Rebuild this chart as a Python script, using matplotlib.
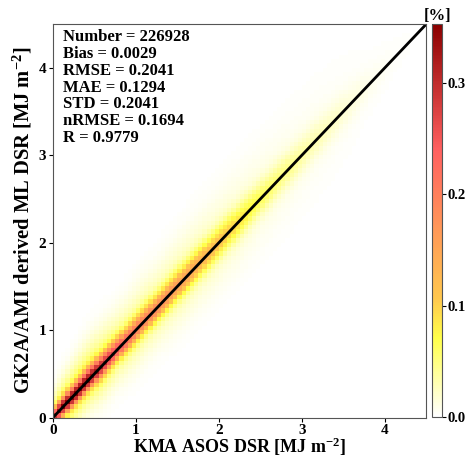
import numpy as np
import matplotlib
matplotlib.use("Agg")
import matplotlib.pyplot as plt
from matplotlib.colors import LinearSegmentedColormap

plt.rcParams['font.family'] = ['Liberation Serif', 'DejaVu Serif']
plt.rcParams['font.weight'] = 'bold'
plt.rcParams['mathtext.fontset'] = 'custom'
plt.rcParams['mathtext.rm'] = 'Liberation Serif:bold'
plt.rcParams['mathtext.bf'] = 'Liberation Serif:bold'
plt.rcParams['mathtext.it'] = 'Liberation Serif:bold:italic'
plt.rcParams['mathtext.default'] = 'bf'

# ---- data ----
stats_lines = ["Number = 226928", "Bias = 0.0029", "RMSE = 0.2041", "MAE = 0.1294",
               "STD = 0.2041", "nRMSE = 0.1694", "R = 0.9779"]
bin_width = 0.05
axis_max = 4.5
# density [%] along the 1:1 diagonal
diag_x = [0.0, 0.1, 0.25, 0.4, 0.6, 0.8, 1.0, 1.25, 1.5, 2.0, 2.5, 3.0, 3.5, 3.8, 4.1, 4.5]
diag_peak = [0.28, 0.35, 0.36, 0.35, 0.31, 0.25, 0.21, 0.19, 0.165, 0.115, 0.065, 0.036, 0.018, 0.008, 0.003, 0.0]
# core spread (MJ m-2) of the cloud above / below the diagonal
spread_above = [0.06, 0.07, 0.08, 0.09, 0.09, 0.09, 0.10, 0.10, 0.11, 0.12, 0.13, 0.14, 0.15, 0.15, 0.15, 0.15]
spread_below = [0.05, 0.06, 0.07, 0.07, 0.08, 0.08, 0.09, 0.09, 0.10, 0.11, 0.12, 0.13, 0.14, 0.14, 0.14, 0.14]
halo_fraction = 0.22
halo_scale = 3.0
cbar_ticks = [0.0, 0.1, 0.2, 0.3]
cbar_max = 0.353
axis_ticks = [0, 1, 2, 3, 4]

# ---- build grid ----
edges = np.arange(0, axis_max + bin_width / 2, bin_width)
centers = (edges[:-1] + edges[1:]) / 2
X, Y = np.meshgrid(centers, centers)
peak = np.interp(X, diag_x, diag_peak)
s_up = np.interp(X, diag_x, spread_above)
s_dn = np.interp(X, diag_x, spread_below)
d = Y - X
s = np.where(d >= 0, s_up, s_dn)
Z = peak * ((1 - halo_fraction) * np.exp(-0.5 * (d / s) ** 2)
            + halo_fraction * np.exp(-0.5 * (d / (halo_scale * s)) ** 2))

cmap = LinearSegmentedColormap.from_list(
    "wyor", [(0.0, "#ffffff"), (0.2, "#ffff4a"), (0.3, "#ffc84e"),
             (0.47, "#ff9a58"), (0.68, "#ff6060"), (1.0, "#8b0000")])

fig = plt.figure(figsize=(4.66, 4.58), dpi=100)
ax = fig.add_axes([0.1137, 0.0884, 0.8015, 0.8594])
cax = fig.add_axes([0.928, 0.0895, 0.02, 0.858])

mesh = ax.pcolormesh(edges, edges, Z, cmap=cmap, vmin=0, vmax=cbar_max, shading='flat')
ax.plot([0, axis_max], [0, axis_max], color='black', lw=2)
ax.set_xlim(0, axis_max)
ax.set_ylim(0, axis_max)
ax.set_xticks(axis_ticks)
ax.set_yticks(axis_ticks)
ax.tick_params(labelsize=11, length=3, width=0.8, pad=2)
for sp in ax.spines.values():
    sp.set_color('#555555')
ax.set_xlabel("KMA ASOS DSR [MJ m$^{-2}$]", fontsize=13, fontweight='bold', labelpad=-1)
ax.set_ylabel("GK2A/AMI derived ML DSR [MJ m$^{-2}$]", fontsize=14.8, fontweight='bold', labelpad=3)
ax.text(0.027, 0.988, "\n".join(stats_lines), transform=ax.transAxes, va='top', ha='left',
        fontsize=12, fontweight='bold', linespacing=1.08)

cb = fig.colorbar(mesh, cax=cax, ticks=cbar_ticks)
cb.ax.tick_params(labelsize=10.5, length=3, width=0.8, pad=1)
cb.ax.set_yticklabels([f"{t:.1f}" for t in cbar_ticks])
cb.outline.set_edgecolor('#555555')
cax.set_title("[%]", fontsize=12, fontweight='bold', pad=2)

fig.savefig("out.png", dpi=100)
